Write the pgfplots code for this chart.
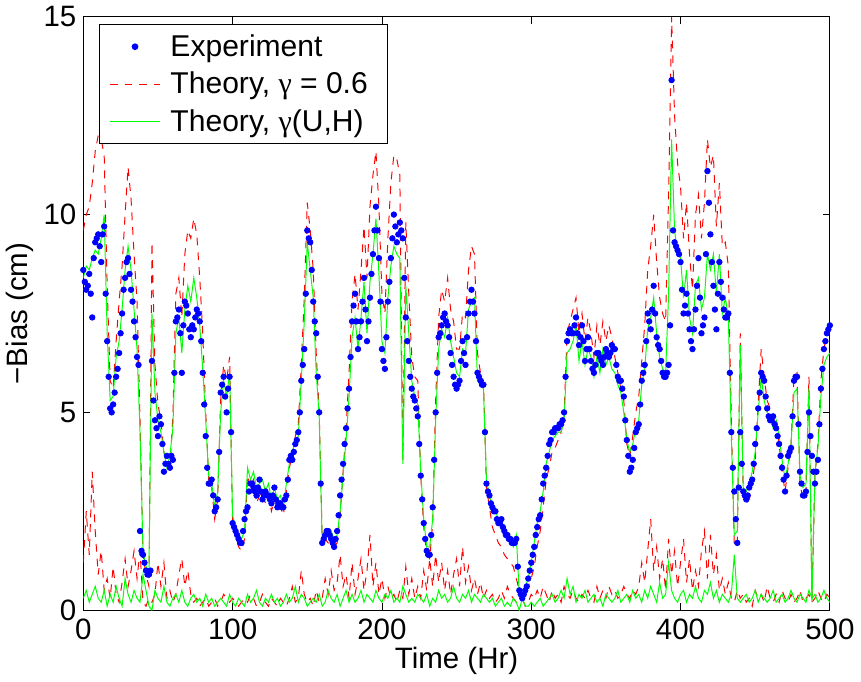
\documentclass[border=0pt]{standalone}
\usepackage{fontspec}
\setmainfont{Liberation Sans}
\newfontfamily\gfont{Liberation Serif}
\usepackage{pgfplots}
\usepackage{pgfplotstable}
\pgfplotsset{compat=1.18}

\pgfplotstableread{
t e g r rl gl
0 8.6 8.4 9.6 1.2 0.3
2 8.1 8.7 10.0 2.5 0.5
4 8.5 8.6 10.2 1.4 0.2
6 7.4 8.9 10.8 3.5 0.4
8 9.3 9.1 11.6 2.0 0.6
10 9.5 9.0 12.0 0.9 0.3
12 8.8 9.4 11.9 1.5 0.2
14 9.7 10.0 11.5 0.5 0.5
16 6.8 7.0 8.2 0.8 0.1
18 5.1 5.3 5.8 0.3 0.4
20 5.2 5.4 5.6 1.1 0.2
22 5.9 6.4 6.8 0.4 0.6
24 6.5 6.8 7.8 0.2 0.3
26 7.5 7.6 8.7 0.7 0.1
28 8.4 8.6 10.0 1.3 0.8
30 8.9 9.2 11.2 0.6 0.4
32 8.1 8.6 10.4 1.0 0.2
34 7.3 7.6 9.0 1.5 0.5
36 6.4 6.6 7.8 0.8 0.3
38 2.0 4.5 4.8 1.5 0.2
40 1.4 1.5 1.4 0.2 0.9
42 1.0 1.1 0.9 0.1 0.5
44 0.9 1.0 0.6 0.3 0.1
46 6.3 7.5 9.3 0.2 0.0
48 4.8 5.5 6.2 0.4 0.5
50 4.4 4.8 5.2 1.2 0.3
52 4.7 4.5 4.8 0.6 0.2
54 3.5 4.0 4.0 1.2 0.6
56 3.9 3.6 3.7 0.3 0.2
58 3.6 3.9 3.6 0.5 0.1
60 3.8 4.6 4.9 0.2 0.3
62 7.3 7.0 8.0 0.4 0.4
64 7.6 7.4 8.4 0.9 0.2
66 6.0 6.5 7.4 1.3 0.5
68 7.8 7.6 9.0 0.6 0.2
70 7.5 8.2 9.6 1.0 0.1
72 6.9 7.8 9.4 0.4 0.3
74 7.1 8.4 9.9 0.2 0.4
76 7.6 7.9 9.5 0.3 0.2
78 7.3 7.2 8.4 0.1 0.3
80 6.0 6.1 7.0 0.2 0.1
82 4.4 4.8 5.0 0.3 0.4
84 3.2 3.4 3.3 0.1 0.2
86 3.3 3.2 3.1 0.2 0.3
88 2.5 2.6 2.3 0.3 0.1
90 2.8 3.0 2.8 0.1 0.2
92 5.5 5.0 5.3 0.2 0.3
94 5.9 5.8 6.2 0.4 0.2
96 5.0 5.4 5.8 0.3 0.1
98 5.9 6.0 6.4 0.2 0.4
100 2.2 2.4 2.2 0.3 0.2
102 2.0 2.1 1.9 0.2 0.1
104 1.8 1.9 1.6 0.1 0.3
106 1.7 1.8 1.5 0.2 0.2
108 2.3 2.0 1.8 0.3 0.1
110 2.6 3.6 3.4 0.2 0.4
112 3.2 3.3 3.1 0.4 0.2
114 3.1 3.5 3.3 0.3 0.3
116 2.9 3.1 2.7 0.1 0.5
118 3.3 3.2 2.9 0.2 0.2
120 2.8 3.3 3.0 0.4 0.1
122 3.0 3.0 2.7 0.2 0.3
124 2.9 3.2 2.9 0.1 0.2
126 2.7 2.8 2.5 0.3 0.4
128 3.1 3.1 2.8 0.2 0.2
130 2.6 2.8 2.5 0.1 0.3
132 2.7 2.9 2.6 0.3 0.1
134 2.6 2.6 2.4 0.2 0.2
136 2.9 3.2 3.0 0.1 0.4
138 3.8 3.7 3.6 0.3 0.2
140 3.8 4.0 3.9 0.6 0.3
142 4.2 4.3 4.4 0.2 0.6
144 4.5 4.4 4.7 0.3 0.2
146 5.8 5.8 6.2 1.0 0.4
148 6.6 7.3 7.9 0.4 0.3
150 9.6 9.3 10.3 0.2 0.1
152 9.3 8.6 9.6 0.3 0.2
154 7.8 7.9 8.6 0.1 0.3
156 7.0 6.0 6.5 0.5 0.2
158 5.0 4.9 5.0 0.2 0.4
160 1.7 1.7 1.8 0.3 0.1
162 1.9 2.0 1.8 0.8 0.2
164 2.0 1.9 1.7 0.4 0.5
166 1.8 2.0 1.6 1.0 0.3
168 1.6 1.8 1.6 0.5 0.2
170 2.0 1.9 1.7 0.7 0.4
172 2.9 2.5 2.4 1.4 0.1
174 3.7 3.4 3.5 0.6 0.3
176 4.6 4.3 4.6 0.9 0.5
178 5.6 5.4 6.0 0.3 0.2
180 7.3 6.9 7.8 1.2 0.4
182 8.0 7.4 8.5 0.4 0.2
184 6.6 6.6 7.6 0.8 0.3
186 7.3 7.4 8.6 1.3 0.5
188 8.4 8.3 9.7 0.5 0.2
190 6.8 7.0 8.4 1.0 0.4
192 7.9 8.3 10.2 1.9 0.3
194 9.0 9.0 11.0 0.6 0.2
196 10.2 9.9 11.6 1.2 0.5
198 8.9 8.5 10.2 0.4 0.3
200 6.6 6.8 8.0 0.8 0.2
202 6.1 6.5 7.5 0.3 0.4
204 7.8 7.9 9.4 0.6 0.3
206 8.9 8.7 10.8 0.3 0.5
208 10.0 9.2 11.5 0.4 0.2
210 9.3 9.0 11.4 0.2 0.3
212 9.8 8.9 11.0 0.5 0.2
214 9.4 3.7 3.8 0.3 0.6
216 7.4 8.2 9.8 1.1 0.4
218 6.3 7.0 8.0 0.4 0.2
220 5.6 5.8 6.4 0.8 0.3
222 5.3 5.4 5.9 0.3 0.2
224 4.9 5.2 5.8 0.6 0.4
226 3.4 3.5 3.4 0.3 0.3
228 2.2 2.3 2.1 1.0 0.2
230 1.5 1.6 1.4 0.5 0.4
232 1.4 1.6 1.3 1.3 0.1
234 2.6 2.3 2.2 0.6 0.3
236 5.0 4.8 5.3 1.4 0.2
238 6.9 6.6 7.4 0.7 0.5
240 7.2 7.1 8.1 1.2 0.3
242 7.5 6.9 7.8 0.5 0.4
244 7.2 7.4 8.4 1.0 0.2
246 6.5 6.8 7.6 0.4 0.3
248 5.9 6.4 7.3 0.9 0.6
250 5.6 6.0 6.6 1.3 0.3
252 5.8 5.9 6.6 0.6 0.2
254 6.8 6.6 7.5 1.6 0.4
256 6.2 6.5 7.4 0.7 0.3
258 7.5 7.6 8.6 1.1 0.5
260 8.1 7.8 9.2 0.5 0.2
262 7.5 7.9 9.0 0.8 0.4
264 6.0 5.8 6.5 0.4 0.3
266 5.8 5.7 6.0 0.7 0.2
268 5.7 5.6 5.8 0.3 0.4
270 3.2 3.3 3.1 0.5 0.3
272 2.9 2.9 2.6 0.3 0.2
274 2.6 2.6 2.1 0.4 0.3
276 2.5 2.5 1.9 0.2 0.1
278 2.2 2.3 1.7 0.3 0.2
280 2.3 2.2 1.6 0.5 0.3
282 2.0 2.0 1.4 0.3 0.1
284 1.9 1.9 1.3 0.6 0.2
286 1.8 1.8 1.2 0.4 0.1
288 1.7 1.6 1.1 0.3 0.3
290 1.8 1.9 0.8 0.2 0.2
292 0.5 0.4 0.5 0.5 0.0
294 0.3 0.5 0.3 0.3 0.3
296 0.5 0.6 0.4 0.1 0.1
298 0.8 0.8 0.6 0.2 0.1
300 1.2 1.2 0.8 0.4 0.2
302 1.6 1.7 1.1 0.3 0.1
304 2.1 2.2 1.6 0.5 0.2
306 2.4 2.5 2.0 0.3 0.3
308 3.2 3.0 2.6 0.6 0.1
310 3.6 3.7 3.3 0.4 0.2
312 4.2 4.0 3.6 0.2 0.3
314 4.5 4.3 4.0 0.5 0.4
316 4.6 4.4 4.1 0.3 0.2
318 4.6 4.5 4.3 0.4 0.3
320 4.7 4.5 4.5 0.2 0.5
322 5.0 4.8 4.9 0.6 0.3
324 6.8 6.5 7.0 0.4 0.8
326 7.1 6.6 7.3 0.3 0.4
328 7.0 6.8 7.6 0.5 0.6
330 7.4 7.2 7.9 0.3 0.2
332 6.7 6.3 7.0 0.2 0.4
334 7.2 6.8 7.5 0.4 0.3
336 6.3 6.2 6.8 0.3 0.5
338 6.9 6.6 7.4 0.5 0.2
340 6.3 6.4 7.0 0.3 0.3
342 6.0 5.9 6.4 0.2 0.4
344 6.5 6.4 7.2 0.6 0.2
346 6.4 6.0 6.7 0.3 0.3
348 6.2 6.6 7.3 0.5 0.1
350 6.6 6.2 6.8 0.3 0.4
352 6.4 6.4 7.2 0.6 0.3
354 6.7 6.1 6.9 0.4 0.2
356 6.6 6.0 6.4 0.5 0.3
358 5.9 5.7 6.0 0.3 0.5
360 5.8 5.5 5.6 0.4 0.2
362 5.4 5.0 5.3 0.6 0.3
364 4.3 4.3 4.2 0.4 0.4
366 3.5 4.0 3.9 0.3 0.2
368 3.8 4.2 4.4 0.5 0.5
370 4.5 4.6 5.0 0.4 0.3
372 4.7 4.8 5.4 0.6 0.4
374 5.8 5.7 6.3 1.2 0.2
376 6.2 6.1 7.2 0.7 0.5
378 7.5 7.1 8.6 1.5 0.3
380 7.1 7.4 9.2 2.3 0.6
382 8.2 7.9 10.0 1.0 0.4
384 6.9 7.0 8.8 1.6 0.2
386 6.6 6.4 7.9 0.8 0.7
388 6.0 6.1 7.5 1.3 0.3
390 5.9 6.0 7.3 0.5 0.4
392 6.2 8.0 10.5 1.8 1.2
394 13.4 11.9 15.0 0.9 0.5
396 9.3 9.6 12.5 1.5 0.3
398 9.1 9.0 11.3 0.6 0.2
400 8.8 8.9 10.7 1.2 0.4
402 7.5 7.9 9.4 1.8 0.5
404 8.0 8.6 10.3 0.7 0.2
406 7.1 7.4 9.0 1.3 0.4
408 6.6 7.0 8.1 0.5 0.3
410 7.6 8.2 10.0 1.0 0.6
412 8.9 8.4 10.5 0.6 0.3
414 7.0 7.6 9.4 1.5 0.2
416 7.4 7.9 10.3 2.0 0.5
418 11.1 9.0 11.9 0.8 0.4
420 9.5 8.6 11.2 1.9 0.7
422 8.2 9.0 11.5 0.9 0.3
424 7.1 8.0 9.7 1.4 0.5
426 8.8 9.0 10.8 0.5 0.2
428 7.9 7.5 9.2 0.8 0.4
430 7.4 7.9 9.3 0.4 0.3
432 7.5 7.4 8.7 0.7 0.2
434 4.5 4.4 4.8 0.3 0.4
436 3.0 1.9 1.6 0.2 1.4
438 1.7 2.0 1.7 0.5 0.3
440 4.5 6.7 7.0 0.3 0.2
442 3.0 3.1 2.9 0.4 0.3
444 2.8 3.0 2.7 0.2 0.4
446 3.1 3.2 2.8 0.3 0.2
448 3.3 3.5 3.2 0.1 0.3
450 4.2 4.0 3.8 0.5 0.5
452 5.1 5.0 5.2 0.3 0.2
454 6.0 5.9 6.6 0.4 0.4
456 5.8 5.3 5.9 0.2 0.3
458 5.1 5.0 5.3 0.6 0.2
460 4.8 4.9 5.1 0.3 0.3
462 4.9 4.6 4.8 0.2 0.5
464 4.6 4.8 4.9 0.4 0.2
466 4.2 4.4 4.2 0.2 0.3
468 3.6 3.8 3.5 0.5 0.4
470 3.0 3.3 3.0 0.3 0.2
472 3.9 3.7 3.6 0.2 0.3
474 4.1 4.2 4.2 0.4 0.5
476 5.8 5.5 5.9 0.2 0.3
478 5.9 5.6 6.0 0.3 0.2
480 3.5 3.4 3.2 0.5 0.4
482 2.9 3.1 2.8 0.2 0.3
484 3.0 3.2 3.0 0.3 0.2
486 5.0 5.6 5.9 0.4 0.5
488 3.9 0.2 0.3 0.2 0.3
490 3.2 3.5 3.4 0.3 0.4
492 3.8 4.1 4.2 0.5 0.2
494 5.6 5.4 5.8 0.3 0.3
496 6.6 6.2 6.6 0.2 0.5
498 7.0 6.4 7.0 0.4 0.3
500 7.2 6.5 7.1 0.3 0.2
}\data

\pgfplotstableread{
t e
1 8.3
3 8.2
5 8.0
7 8.9
9 9.4
11 9.2
13 9.5
15 8.0
17 5.9
19 5.0
21 5.5
23 6.1
25 7.0
27 8.1
29 8.8
31 8.5
33 7.8
35 6.9
37 6.2
39 1.5
41 1.2
43 0.9
45 1.0
47 5.3
49 4.6
51 4.9
53 4.2
55 3.7
57 3.7
59 3.9
61 6.0
63 7.4
65 7.0
67 7.2
69 7.7
71 7.1
73 7.2
75 7.4
77 7.5
79 6.8
81 5.2
83 3.6
85 3.2
87 2.9
89 2.6
91 4.0
93 5.7
95 5.4
97 5.6
99 4.5
101 2.1
103 1.9
105 1.7
107 2.0
109 2.5
111 3.0
113 3.2
115 3.0
117 3.1
119 3.0
121 2.9
123 2.9
125 2.8
127 2.9
129 2.8
131 2.7
133 2.6
135 2.8
137 3.3
139 3.9
141 4.0
143 4.3
145 5.0
147 6.2
149 8.0
151 9.4
153 8.6
155 7.3
157 5.9
159 3.2
161 1.8
163 2.0
165 1.9
167 1.7
169 1.8
171 2.4
173 3.3
175 4.2
177 5.1
179 6.4
181 7.7
183 7.3
185 6.9
187 7.8
189 7.6
191 7.3
193 8.5
195 9.6
197 9.6
199 7.8
201 6.3
203 6.9
205 8.3
207 9.4
209 9.7
211 9.5
213 9.6
215 8.4
217 6.8
219 5.9
221 5.4
223 5.1
225 4.2
227 2.8
229 1.8
231 1.4
233 1.9
235 3.8
237 6.0
239 7.0
241 7.4
243 7.3
245 6.9
247 6.2
249 5.7
251 5.7
253 6.3
255 6.5
257 6.9
259 7.8
261 7.8
263 6.8
265 5.9
267 5.7
269 4.5
271 3.0
273 2.7
275 2.5
277 2.3
279 2.2
281 2.1
283 1.9
285 1.8
287 1.7
289 1.7
291 1.1
293 0.4
295 0.4
297 0.6
299 1.0
301 1.4
303 1.9
305 2.3
307 2.8
309 3.4
311 3.9
313 4.3
315 4.5
317 4.6
319 4.7
321 4.8
323 5.9
325 7.0
327 7.0
329 7.2
331 7.0
333 6.9
335 6.8
337 6.6
339 6.6
341 6.1
343 6.2
345 6.5
347 6.3
349 6.4
351 6.5
353 6.5
355 6.6
357 6.2
359 5.8
361 5.6
363 4.8
365 3.9
367 3.6
369 4.1
371 4.6
373 5.2
375 6.0
377 6.8
379 7.3
381 7.6
383 7.5
385 6.7
387 6.3
389 5.9
391 6.0
393 7.2
395 9.6
397 9.2
399 9.0
401 8.1
403 7.7
405 7.5
407 6.8
409 7.1
411 8.2
413 7.9
415 7.2
417 9.0
419 10.3
421 8.8
423 7.6
425 8.0
427 8.3
429 7.6
431 7.4
433 6.0
435 3.6
437 2.3
439 3.1
441 3.7
443 2.9
445 2.9
447 3.2
449 3.7
451 4.6
453 5.5
455 5.9
457 5.4
459 4.9
461 4.8
463 4.7
465 4.4
467 3.9
469 3.3
471 3.4
473 4.0
475 4.9
477 5.9
479 4.7
481 3.2
483 2.9
485 4.0
487 4.4
489 3.5
491 3.5
493 4.7
495 6.1
497 6.8
499 7.1
}\dataodd

\begin{document}
\begin{tikzpicture}
\begin{axis}[
  scale only axis, width=380pt, height=302pt,
  xmin=0, xmax=500, ymin=0, ymax=15,
  xtick={0,100,200,300,400,500}, ytick={0,5,10,15},
  tick align=inside, major tick length=3.5pt,
  every tick/.style={black, line width=0.4pt},
  axis line style={line width=0.6pt},
  /pgf/number format/assume math mode=true,
  tick label style={font=\fontsize{15}{18}\selectfont},
  xticklabel style={yshift=-1pt},
  label style={font=\fontsize{15}{18}\selectfont},
  xlabel={Time (Hr)}, ylabel={−Bias (cm)},
  xlabel style={yshift=3pt},
  ylabel style={yshift=-2pt},
  legend cell align=left,
  legend style={at={(0.021,0.988)}, anchor=north west, draw=black, line width=0.6pt,
    font=\fontsize{15.3}{18}\selectfont, row sep=2.5pt, inner xsep=5pt, inner ysep=3pt,
    nodes={inner xsep=5pt}, /tikz/every even column/.append style={column sep=4pt}},
  legend image code/.code={\draw[mark repeat=2,mark phase=2,#1] plot coordinates {(0cm,0cm) (0.45cm,0cm) (0.9cm,0cm)};},
]
\addplot[only marks, mark=*, mark size=1.4pt, color=blue] table[x=t,y=e] {\data};
\addlegendentry{Experiment}
\addplot[red, line width=0.5pt, dash pattern=on 4pt off 3.5pt] table[x=t,y=r] {\data};
\addlegendentry{Theory, {\gfont γ} = 0.6}
\addplot[green, line width=0.5pt] table[x=t,y=g] {\data};
\addlegendentry{Theory, {\gfont γ}(U,H)}
\addplot[only marks, mark=*, mark size=1.4pt, color=blue, forget plot] table[x=t,y=e] {\dataodd};
\addplot[red, line width=0.5pt, dash pattern=on 4pt off 3.5pt, forget plot] table[x=t,y=rl] {\data};
\addplot[green, line width=0.5pt, forget plot] table[x=t,y=gl] {\data};
\end{axis}
\end{tikzpicture}
\end{document}
